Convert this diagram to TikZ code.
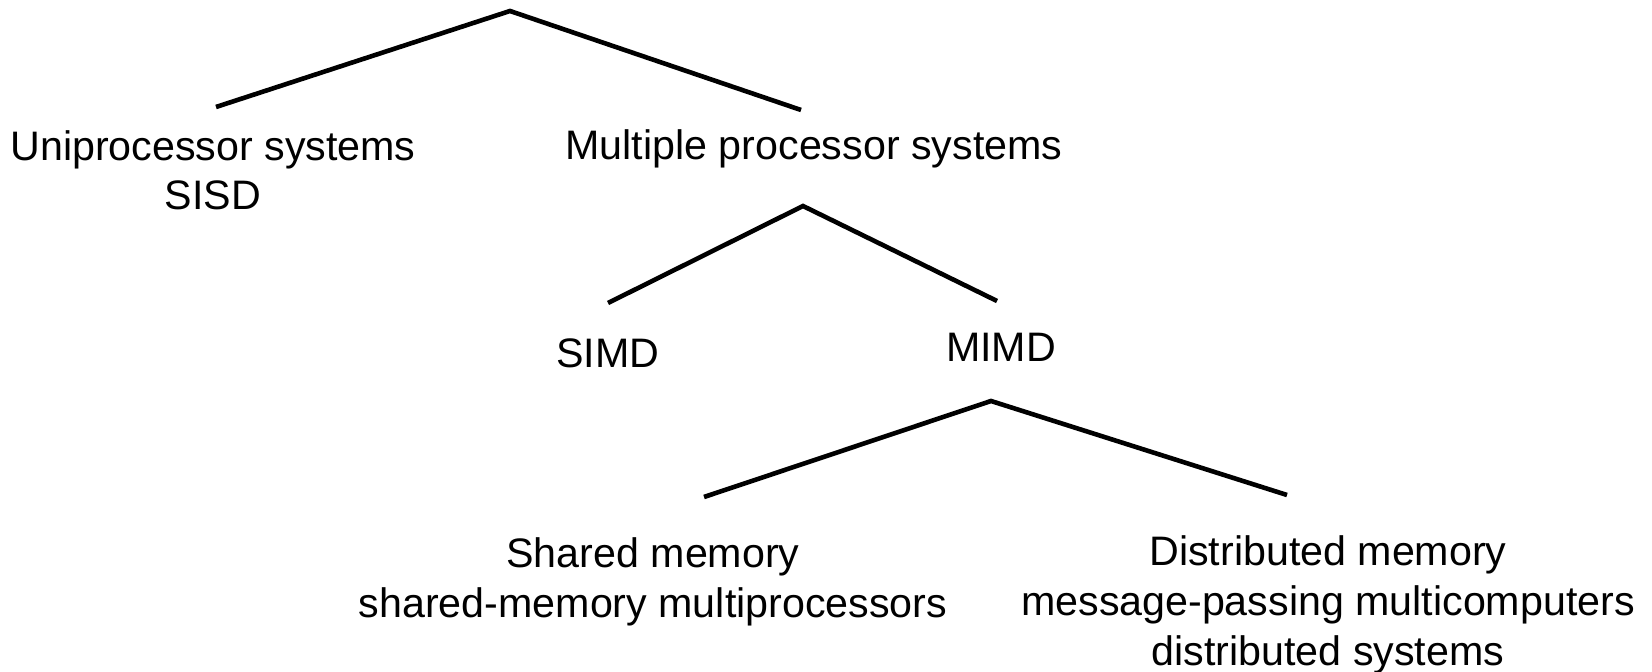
\documentclass[tikz,border=0pt]{standalone}
\usepackage{fontspec}
\setmainfont{Liberation Sans}
\begin{document}
\begin{tikzpicture}[x=0.5pt,y=-0.5pt,
  lbl/.style={font=\fontsize{20.6}{24.8}\selectfont, align=center, inner sep=0pt, anchor=base},
  edge/.style={line width=2.3pt, line join=miter}]
\useasboundingbox[fill=white] (0,0) rectangle (1652,672);
% labels (anchor = baseline of the last line)
\node[lbl] (uni) at (213,210) {Uniprocessor systems\\SISD};
\node[lbl] (multi) at (814,160) {Multiple processor systems};
\node[lbl] (simd) at (608,368) {SIMD};
\node[lbl] (mimd) at (1001,362) {MIMD};
\node[lbl] (shared) at (653,617) {Shared memory\\shared-memory multiprocessors};
\node[lbl] (dist) at (1328,665) {Distributed memory\\message-passing multicomputers\\distributed systems};
% connector points
\coordinate (a1) at (510,11);
\coordinate (a1l) at (216,107);
\coordinate (a1r) at (801,110);
\coordinate (a2) at (803,206);
\coordinate (a2l) at (608,303);
\coordinate (a2r) at (997,301);
\coordinate (a3) at (991,401);
\coordinate (a3l) at (704,497);
\coordinate (a3r) at (1287,495);
\draw[edge] (a1l) -- (a1) -- (a1r);
\draw[edge] (a2l) -- (a2) -- (a2r);
\draw[edge] (a3l) -- (a3) -- (a3r);
\end{tikzpicture}
\end{document}
